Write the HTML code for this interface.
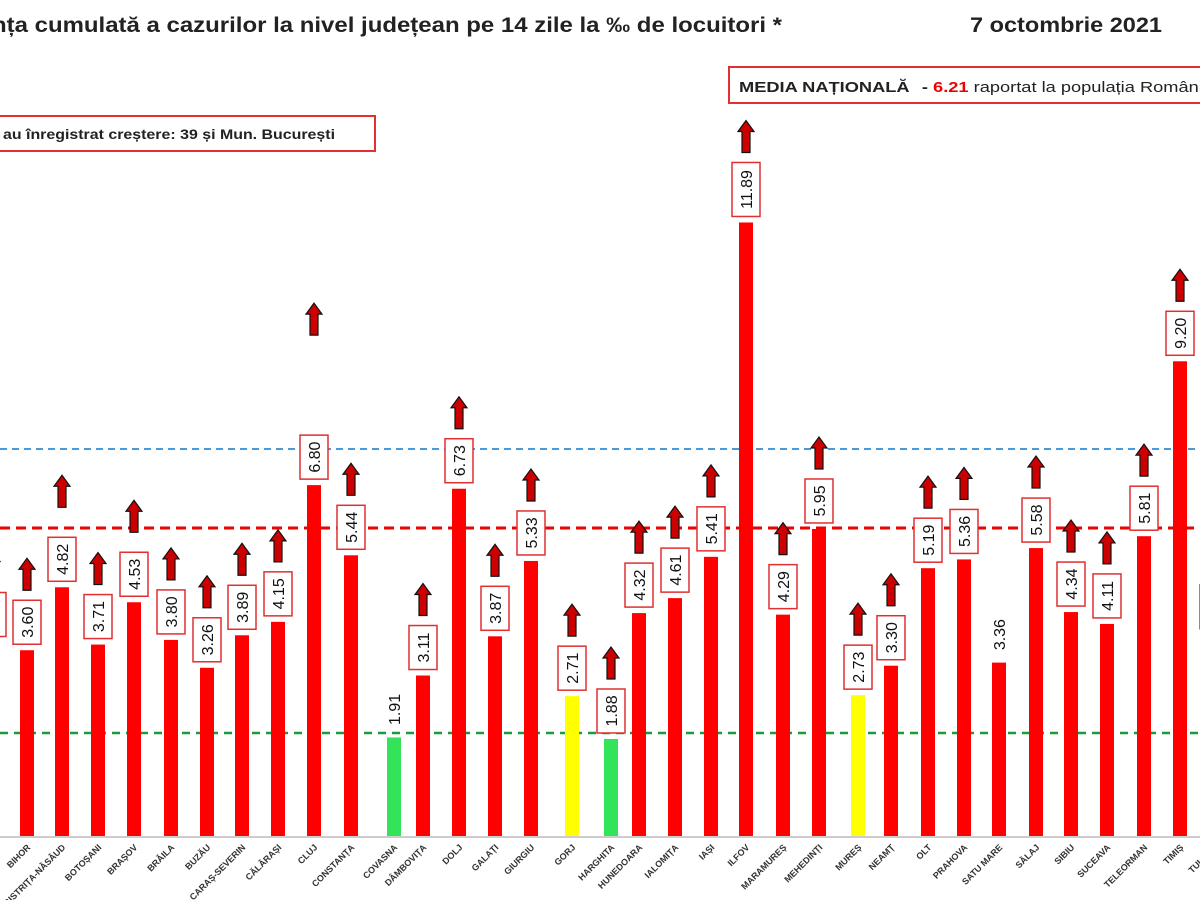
<!DOCTYPE html>
<html><head><meta charset="utf-8"><style>
body{margin:0;background:#fff;width:1200px;height:900px;overflow:hidden;font-family:"Liberation Sans",sans-serif}
</style></head><body>
<svg id="s" width="1200" height="900" xmlns="http://www.w3.org/2000/svg" font-family="Liberation Sans, sans-serif">
<text x="-8" y="32" font-size="21" font-weight="bold" fill="#222" textLength="790" lengthAdjust="spacingAndGlyphs">nța cumulată a cazurilor la nivel județean pe 14 zile la ‰ de locuitori *</text>
<text x="970" y="32" font-size="21" font-weight="bold" fill="#222" textLength="192" lengthAdjust="spacingAndGlyphs">7 octombrie 2021</text>
<rect x="729" y="67" width="480" height="36" fill="#fff" stroke="#e03030" stroke-width="2"/>
<text x="739" y="92" font-size="15" font-weight="bold" fill="#222" textLength="478" lengthAdjust="spacingAndGlyphs">MEDIA NAȚIONALĂ <tspan dx="6">-</tspan> <tspan fill="#e00">6.21</tspan> <tspan font-weight="normal">raportat la populația României</tspan></text>
<rect x="-5" y="116" width="380" height="35" fill="#fff" stroke="#e03030" stroke-width="2"/>
<text x="3" y="139" font-size="14" font-weight="bold" fill="#222" textLength="332" lengthAdjust="spacingAndGlyphs">au înregistrat creștere:  39 și Mun. București</text>
<line x1="0" y1="449" x2="1200" y2="449" stroke="#4a9ad8" stroke-width="2" stroke-dasharray="7,5"/>
<line x1="0" y1="528" x2="1200" y2="528" stroke="#e00" stroke-width="3" stroke-dasharray="10,6"/>
<line x1="0" y1="733" x2="1200" y2="733" stroke="#1a9a3a" stroke-width="2.5" stroke-dasharray="8,6"/>
<line x1="0" y1="837" x2="1200" y2="837" stroke="#bbb" stroke-width="1.5"/>
<g id="g"></g>
</svg>
<script>
var d=[
[-8,3.75,"",'r',1,1,0],
[27,3.60,"BIHOR",'r',1,1,0],[62,4.82,"BISTRIȚA-NĂSĂUD",'r',1,1,20],[98,3.71,"BOTOȘANI",'r',1,1,0],[134,4.53,"BRAȘOV",'r',1,1,10],
[171,3.80,"BRĂILA",'r',1,1,0],[207,3.26,"BUZĂU",'r',1,1,0],[242,3.89,"CARAȘ-SEVERIN",'r',1,1,0],[278,4.15,"CĂLĂRAȘI",'r',1,1,0],
[314,6.80,"CLUJ",'r',1,1,90],[351,5.44,"CONSTANȚA",'r',1,1,0],[394,1.91,"COVASNA",'g',0,0,0],[423,3.11,"DÂMBOVIȚA",'r',1,1,0],
[459,6.73,"DOLJ",'r',1,1,0],[495,3.87,"GALAȚI",'r',1,1,0],[531,5.33,"GIURGIU",'r',1,1,0],[572,2.71,"GORJ",'y',1,1,0],
[611,1.88,"HARGHITA",'g',1,1,0],[639,4.32,"HUNEDOARA",'r',1,1,0],[675,4.61,"IALOMIȚA",'r',1,1,0],[711,5.41,"IAȘI",'r',1,1,0],
[746,11.89,"ILFOV",'r',1,1,0],[783,4.29,"MARAMUREȘ",'r',1,1,0],[819,5.95,"MEHEDINȚI",'r',1,1,0],[858,2.73,"MUREȘ",'y',1,1,0],
[891,3.30,"NEAMȚ",'r',1,1,0],[928,5.19,"OLT",'r',1,1,0],[964,5.36,"PRAHOVA",'r',1,1,0],[999,3.36,"SATU MARE",'r',0,0,0],
[1036,5.58,"SĂLAJ",'r',1,1,0],[1071,4.34,"SIBIU",'r',1,1,0],[1107,4.11,"SUCEAVA",'r',1,1,0],[1144,5.81,"TELEORMAN",'r',1,1,0],
[1180,9.20,"TIMIȘ",'r',1,1,0],[1214,3.9,"TULCEA",'r',1,1,0]];
var col={r:'#ff0000',g:'#33e35a',y:'#ffff00'};
var h='';
d.forEach(function(b){
 var x=b[0],v=b[1],top=836-v*51.6;
 h+='<rect x="'+(x-7)+'" y="'+top+'" width="14" height="'+(836-top)+'" fill="'+col[b[3]]+'"/>';
 var bh=v>10?54:44;
 var bb=top-6,bt=bb-bh;
 if(b[4]) h+='<rect x="'+(x-14)+'" y="'+bt+'" width="28" height="'+bh+'" fill="#fff" stroke="#e03030" stroke-width="1.5"/>';
 h+='<text transform="translate('+(x+6)+','+(bb-bh/2)+') rotate(-90)" text-anchor="middle" font-size="16" fill="#111">'+v.toFixed(2)+'</text>';
 if(b[5]){var ab=bt-10-b[6],at=ab-32;
  h+='<path d="M'+(x-4)+','+ab+' L'+(x-4)+','+(at+11)+' L'+(x-8)+','+(at+11)+' L'+x+','+at+' L'+(x+8)+','+(at+11)+' L'+(x+4)+','+(at+11)+' L'+(x+4)+','+ab+'Z" fill="#c00" stroke="#111" stroke-width="1.2"/>';}
 if(b[2]) h+='<text transform="translate('+(x+4)+',848) rotate(-45)" text-anchor="end" font-size="9" font-weight="bold" fill="#333">'+b[2]+'</text>';
});
document.getElementById('g').innerHTML=h;
</script>
</body></html>
